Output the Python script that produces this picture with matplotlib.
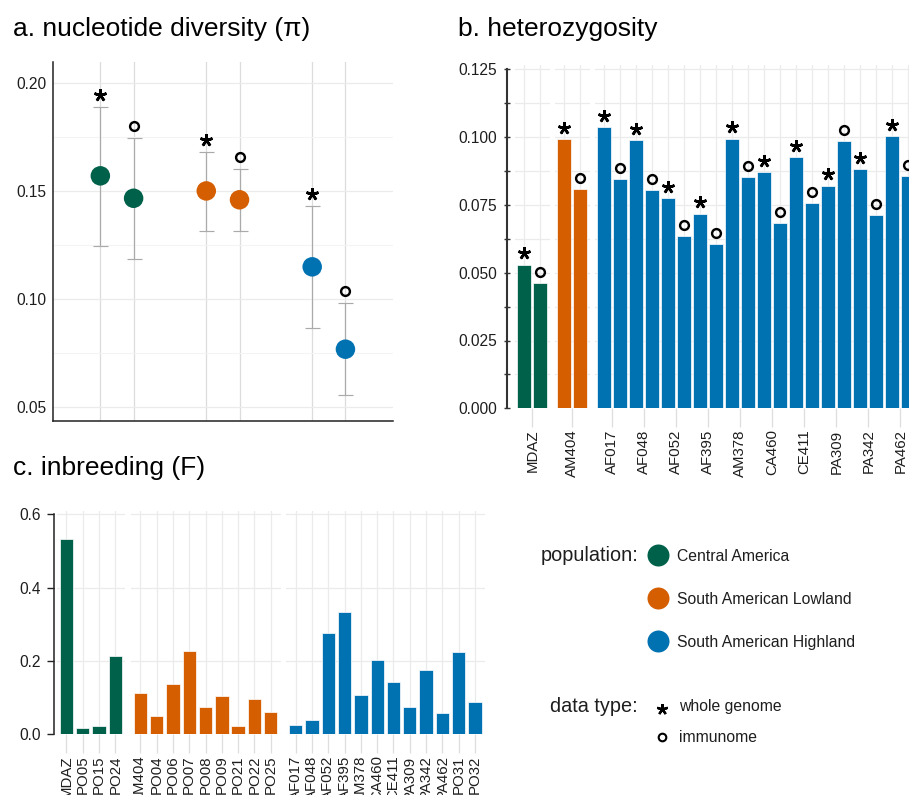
import matplotlib
matplotlib.use("Agg")
import matplotlib.pyplot as plt
from matplotlib.transforms import offset_copy
import numpy as np

plt.rcParams['font.family'] = ['Liberation Sans', 'DejaVu Sans']

# ---------------- data ----------------
populations = ["Central America", "South American Lowland", "South American Highland"]
pop_colors = ["#00614A", "#D55E00", "#0072B2"]

# a. nucleotide diversity (whole genome / immunome), mean with interval
pi_wg = [0.1571, 0.1501, 0.1149]
pi_wg_lo = [0.1247, 0.1317, 0.0865]
pi_wg_hi = [0.1889, 0.1681, 0.1433]
pi_im = [0.1467, 0.1460, 0.0767]
pi_im_lo = [0.1184, 0.1314, 0.0554]
pi_im_hi = [0.1745, 0.1602, 0.0980]

# b. heterozygosity
het_samples_ca = ["MDAZ"]
het_wg_ca = [0.0529]
het_im_ca = [0.0463]
het_samples_sl = ["AM404"]
het_wg_sl = [0.0992]
het_im_sl = [0.0809]
het_samples_sh = ["AF017", "AF048", "AF052", "AF395", "AM378", "CA460",
                  "CE411", "PA309", "PA342", "PA462"]
het_wg_sh = [0.1036, 0.0989, 0.0774, 0.0717, 0.0994, 0.0871, 0.0925, 0.0821, 0.0882, 0.1004]
het_im_sh = [0.0846, 0.0806, 0.0635, 0.0607, 0.0853, 0.0685, 0.0756, 0.0984, 0.0712, 0.0858]

# c. inbreeding
f_samples_ca = ["MDAZ", "PO05", "PO15", "PO24"]
f_ca = [0.533, 0.018, 0.022, 0.2145]
f_samples_sl = ["AM404", "PO04", "PO06", "PO07", "PO08", "PO09", "PO21", "PO22", "PO25"]
f_sl = [0.1136, 0.049, 0.137, 0.227, 0.0745, 0.1036, 0.022, 0.0955, 0.061]
f_samples_sh = ["AF017", "AF048", "AF052", "AF395", "AM378", "CA460", "CE411",
                "PA309", "PA342", "PA462", "PO31", "PO32"]
f_sh = [0.0264, 0.038, 0.276, 0.333, 0.107, 0.2036, 0.1436, 0.0736, 0.176, 0.058, 0.2245, 0.087]

# ---------------- layout helpers ----------------
W, H = 909, 795
PT = 72 / 100.0
fig = plt.figure(figsize=(W / 100, H / 100), dpi=100)


def px_axes(l, t, r, b, z=0):
    return fig.add_axes([l / W, 1 - b / H, (r - l) / W, (b - t) / H], zorder=z)


GRID = "#EBEBEB"
GRID_MIN = "#F4F4F4"
TXT = "#1E1E1E"
AST = (5, 2, 0)


def strip(ax):
    for s in ax.spines.values():
        s.set_visible(False)
    ax.set_facecolor("none")


def sym(ax, xs, ys, kind, dy):
    tr = offset_copy(ax.transData, fig=fig, x=0, y=dy, units='dots')
    if kind == "wg":
        ax.plot(xs, ys, ls="none", marker=AST, ms=12.5 * PT, mew=2.6 * PT,
                mec="black", transform=tr, zorder=5, clip_on=False)
    else:
        ax.plot(xs, ys, ls="none", marker="o", ms=8.8 * PT, mew=2.4 * PT,
                mec="black", mfc="none", transform=tr, zorder=5, clip_on=False)


# ---------------- panel a ----------------
axa = px_axes(53, 62, 393, 421)
strip(axa)
xg = np.arange(len(populations))
d = 0.157
axa.set_xlim(-0.604, 2.606)
axa.set_ylim(0.0434, 0.2099)
for xs, m, lo, hi, kind in [(xg - d, pi_wg, pi_wg_lo, pi_wg_hi, "wg"),
                            (xg + d, pi_im, pi_im_lo, pi_im_hi, "im")]:
    m = np.array(m); lo = np.array(lo); hi = np.array(hi)
    axa.errorbar(xs, m, yerr=[m - lo, hi - m], fmt="none", ecolor="#AAAAAA",
                 elinewidth=0.85, capsize=5.4, capthick=0.85, zorder=2)
    axa.scatter(xs, m, s=(19.5 * PT) ** 2, c=pop_colors, linewidths=0, zorder=3)
    sym(axa, xs, hi, kind, 12)
axa.set_xticks(np.sort(np.concatenate([xg - d, xg + d])))
axa.set_xticklabels([])
axa.tick_params(axis="x", length=0)
axa.grid(axis="x", color="#DCDCDC", lw=0.9)
axa.set_yticks([0.05, 0.10, 0.15, 0.20])
axa.set_yticklabels(["0.05", "0.10", "0.15", "0.20"])
axa.set_yticks([0.075, 0.125, 0.175], minor=True)
axa.tick_params(axis="y", which="both", length=0, pad=4.5, labelsize=11.2, labelcolor=TXT)
axa.grid(axis="y", which="major", color=GRID, lw=0.9)
axa.grid(axis="y", which="minor", color=GRID_MIN, lw=0.8)
axa.set_axisbelow(True)
for s in ["left", "bottom"]:
    axa.spines[s].set_visible(True)
    axa.spines[s].set_color("#222222")
    axa.spines[s].set_linewidth(1.1)

# ---------------- panel b ----------------
b_facets = [(het_samples_ca, het_wg_ca, het_im_ca, pop_colors[0]),
            (het_samples_sl, het_wg_sl, het_im_sl, pop_colors[1]),
            (het_samples_sh, het_wg_sh, het_im_sh, pop_colors[2])]
unit, expd, gap = 32.0, 0.55, 4.8
left = 514.7
b_top, b_bot = 65.0, 408.3
ytop = 0.125 + (69.3 - b_top) / (b_bot - 69.3) * 0.125
for i, (samples, wg, im, col) in enumerate(b_facets):
    n = len(samples)
    width = (n - 1 + 2 * expd) * unit
    ax = px_axes(left, b_top, left + width, b_bot)
    left += width + gap
    strip(ax)
    x = np.arange(n)
    ax.set_xlim(-expd, n - 1 + expd)
    ax.set_ylim(0, ytop)
    ax.bar(x - 0.25, wg, width=0.43, color=col, edgecolor="white", lw=0.5, zorder=2)
    ax.bar(x + 0.25, im, width=0.43, color=col, edgecolor="white", lw=0.5, zorder=2)
    sym(ax, x - 0.25, wg, "wg", 11.5)
    sym(ax, x + 0.25, im, "im", 11)
    ax.set_xticks(x)
    ax.set_xticklabels(samples, rotation=90)
    ax.set_xticks(np.sort(np.concatenate([x - 0.25, x + 0.25])), minor=True)
    ax.tick_params(axis="x", which="major", length=19 * PT, width=0.9, color="#DEDEDE",
                   pad=1.5, labelsize=10.8, labelcolor=TXT)
    ax.tick_params(axis="x", which="minor", length=0)
    ax.grid(axis="x", which="minor", color=GRID, lw=0.9)
    ax.set_yticks(np.arange(0, 0.126, 0.025))
    ax.set_yticklabels(["%.3f" % v for v in np.arange(0, 0.126, 0.025)])
    ax.set_yticks(np.arange(0.0125, 0.125, 0.025), minor=True)
    ax.grid(axis="y", which="both", color=GRID, lw=0.9)
    ax.set_axisbelow(True)
    if i == 0:
        sp = ax.spines["left"]
        sp.set_visible(True)
        sp.set_position(("outward", 8 * PT))
        sp.set_bounds(0, 0.125)
        sp.set_color("#333333")
        sp.set_linewidth(1.5)
        ax.tick_params(axis="y", which="both", direction="inout", length=6 * PT,
                       width=1.0, color="#333333", pad=4.5, labelsize=11.2, labelcolor=TXT)
    else:
        ax.tick_params(axis="y", which="both", length=0, labelleft=False)

# ---------------- panel c ----------------
c_facets = [(f_samples_ca, f_ca, pop_colors[0]),
            (f_samples_sl, f_sl, pop_colors[1]),
            (f_samples_sh, f_sh, pop_colors[2])]
unit, expd, gap = 16.3, 0.6, 5.4
left = 56.7
c_top, c_bot = 510.7, 734.3
ytop_c = 0.6 + (514.3 - c_top) / (c_bot - 514.3) * 0.6
for i, (samples, vals, col) in enumerate(c_facets):
    n = len(samples)
    width = (n - 1 + 2 * expd) * unit
    ax = px_axes(left, c_top, left + width, c_bot)
    left += width + gap
    strip(ax)
    x = np.arange(n)
    ax.set_xlim(-expd, n - 1 + expd)
    ax.set_ylim(0, ytop_c)
    ax.bar(x, vals, width=0.82, color=col, edgecolor="white", lw=0.5, zorder=2)
    ax.set_xticks(x)
    ax.set_xticklabels(samples, rotation=90)
    ax.tick_params(axis="x", length=19 * PT, width=0.9, color="#DEDEDE", pad=1.5,
                   labelsize=10.8, labelcolor=TXT)
    ax.grid(axis="x", color=GRID, lw=0.9)
    ax.set_yticks([0.0, 0.2, 0.4, 0.6])
    ax.set_yticklabels(["0.0", "0.2", "0.4", "0.6"])
    ax.grid(axis="y", color=GRID, lw=0.9)
    ax.set_axisbelow(True)
    if i == 0:
        sp = ax.spines["left"]
        sp.set_visible(True)
        sp.set_position(("outward", 2.4 * PT))
        sp.set_bounds(0, 0.6)
        sp.set_color("#222222")
        sp.set_linewidth(1.1)
        ax.tick_params(axis="y", direction="out", length=7 * PT, width=1.0,
                       color="#222222", pad=4.3, labelsize=11.2, labelcolor=TXT)
    else:
        ax.tick_params(axis="y", length=0, labelleft=False)

# ---------------- titles ----------------
fig.text(13 / W, 1 - 36 / H, "a. nucleotide diversity (π)", fontsize=19, va="baseline", color="black")
fig.text(458.3 / W, 1 - 36 / H, "b. heterozygosity", fontsize=19, va="baseline", color="black")
fig.text(13.3 / W, 1 - 475 / H, "c. inbreeding (F)", fontsize=19, va="baseline", color="black")

# ---------------- legend ----------------
lg = px_axes(0, 0, W, H, z=10)
lg.set_xlim(0, W)
lg.set_ylim(H, 0)
lg.axis("off")
lg.text(638, 555.5, "population:", fontsize=14.3, ha="right", va="center", color=TXT)
for k, (name, col) in enumerate(zip(populations, pop_colors)):
    yy = 554.7 + k * 43.2
    lg.plot([657.7], [yy], marker="o", ms=22 * PT, mew=0, color=col, ls="none")
    lg.text(677.3, yy + 1.5, name, fontsize=11.3, ha="left", va="center", color=TXT)
lg.text(638, 706.5, "data type:", fontsize=14.3, ha="right", va="center", color=TXT)
lg.plot([662.3], [708.5], marker=AST, ms=11 * PT, mew=2.3 * PT, mec="black", ls="none")
lg.text(679.3, 707, "whole genome", fontsize=11.3, ha="left", va="center", color=TXT)
lg.plot([662.3], [737.3], marker="o", ms=7.6 * PT, mew=2.1 * PT, mec="black", mfc="none", ls="none")
lg.text(679.3, 737.5, "immunome", fontsize=11.3, ha="left", va="center", color=TXT)

fig.savefig("out.png", dpi=100)
